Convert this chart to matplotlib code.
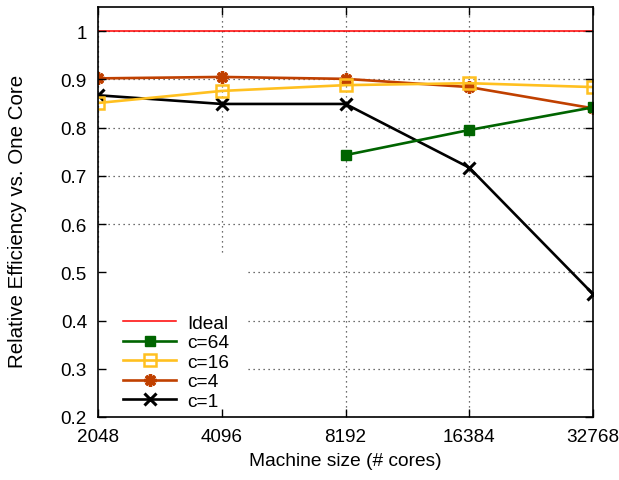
import matplotlib
matplotlib.use('Agg')
import matplotlib.pyplot as plt
from matplotlib.patches import Rectangle

plt.rcParams["font.family"] = "Liberation Sans"
plt.rcParams["font.size"] = 13.6

cores = [2048, 4096, 8192, 16384, 32768]
ideal = [1.0, 1.0, 1.0, 1.0, 1.0]
c64_cores = [8192, 16384, 32768]
c64 = [0.743, 0.795, 0.842]
c16 = [0.851, 0.876, 0.888, 0.892, 0.884]
c4 = [0.902, 0.905, 0.901, 0.884, 0.840]
c1 = [0.867, 0.849, 0.849, 0.717, 0.455]
yticks = [0.2, 0.3, 0.4, 0.5, 0.6, 0.7, 0.8, 0.9, 1.0]
ytick_labels = ['0.2', '0.3', '0.4', '0.5', '0.6', '0.7', '0.8', '0.9', '1']

green = '#006400'
yellow = '#ffc020'
orange = '#c04000'

fig = plt.figure(figsize=(6.19, 4.81), dpi=100)
rect = [98/619, 1 - 418/481, 495/619, 410/481]
ax = fig.add_axes(rect)

ax.set_xscale('log', base=2)
ax.set_xlim(2048, 32768)
ax.set_ylim(0.2, 1.05)
ax.set_xticks(cores)
ax.set_xticklabels([str(c) for c in cores])
ax.minorticks_off()
ax.set_yticks(yticks)
ax.set_yticklabels(ytick_labels)
ax.set_axisbelow(True)
ax.grid(True, color='0.25', linestyle=(0, (1, 3)), linewidth=0.9)
ax.tick_params(length=0)
ax.tick_params(axis='x', pad=8)
ax.tick_params(axis='y', pad=8)
for s in ax.spines.values():
    s.set_visible(False)

# white key box hides the grid behind the legend
ax.add_patch(Rectangle((0, 0), 0.297, 0.398, transform=ax.transAxes,
                       facecolor='white', edgecolor='none', zorder=1))

l_ideal, = ax.plot(cores, ideal, color='#ff0000', linewidth=1.1, zorder=2)
l1, = ax.plot(cores, c1, color='black', linewidth=1.9, marker='x',
              markersize=8, markeredgewidth=2.2, zorder=3)
l4, = ax.plot(cores, c4, color=orange, linewidth=1.9, marker=(8, 2, 0),
              markersize=9, markeredgewidth=2.4, zorder=4)
l16, = ax.plot(cores, c16, color=yellow, linewidth=1.9, marker='s',
               markersize=8, markerfacecolor='none', markeredgewidth=1.8, zorder=5)
l64, = ax.plot(c64_cores, c64, color=green, linewidth=1.9, marker='s',
               markersize=7, zorder=6)

ax.legend([l_ideal, l64, l16, l4, l1], ['Ideal', 'c=64', 'c=16', 'c=4', 'c=1'],
          loc='lower left', bbox_to_anchor=(0.02, -0.02), frameon=False,
          handlelength=2.75, handletextpad=0.6, labelspacing=0.11,
          fontsize=13.8, borderpad=0.3)

ax.set_xlabel('Machine size (# cores)', fontsize=13.8, labelpad=5)
ax.set_ylabel('Relative Efficiency vs. One Core', fontsize=14.8)
ax.yaxis.set_label_coords(-0.1434, 0.48)

# border and inward ticks drawn over everything
ax2 = fig.add_axes(rect, sharex=ax, sharey=ax)
ax2.patch.set_visible(False)
ax2.tick_params(direction='in', length=6, width=1, top=True, right=True,
                labelbottom=False, labelleft=False)
for s in ax2.spines.values():
    s.set_linewidth(1.2)

plt.savefig('out.png', dpi=100)
